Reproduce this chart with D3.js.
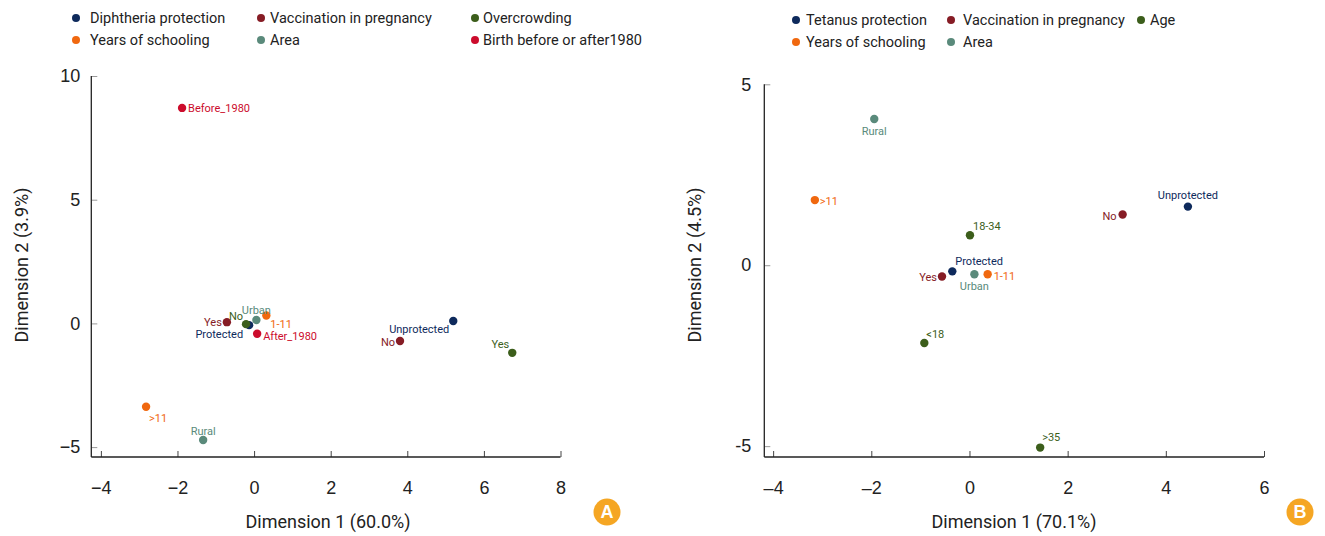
<!DOCTYPE html>
<html>
<head>
<meta charset="utf-8">
<script src="https://cdn.jsdelivr.net/npm/d3@7"></script>
<style>
  body { margin: 0; background: #fff; }
  svg { display: block; font-family: "Liberation Sans Narrow", Roboto, "Liberation Sans", sans-serif; }
</style>
</head>
<body>
<svg id="chart" width="1325" height="536"></svg>
<script>
// ---- Panel A data ----
const groupsA = ['Diphtheria protection', 'Vaccination in pregnancy', 'Overcrowding',
                 'Years of schooling', 'Area', 'Birth before or after1980'];
const labelsA = ['Unprotected', 'Protected', 'No', 'Yes', 'Yes', 'No', '>11', '1-11', 'Rural', 'Urban', 'Before_1980', 'After_1980'];
const groupOfA = [0, 0, 1, 1, 2, 2, 3, 3, 4, 4, 5, 5];
const dim1A = [5.2, -0.13, 3.81, -0.71, 6.74, -0.21, -2.82, 0.32, -1.33, 0.06, -1.88, 0.08];
const dim2A = [0.1, -0.07, -0.71, 0.05, -1.19, -0.03, -3.37, 0.32, -4.71, 0.14, 8.71, -0.42];
const xTicksA = [-4, -2, 0, 2, 4, 6, 8];
const yTicksA = [-5, 0, 5, 10];

// ---- Panel B data ----
const groupsB = ['Tetanus protection', 'Vaccination in pregnancy', 'Age', 'Years of schooling', 'Area'];
const labelsB = ['Unprotected', 'Protected', 'No', 'Yes', '<18', '18-34', '>35', '>11', '1-11', 'Rural', 'Urban'];
const groupOfB = [0, 0, 1, 1, 2, 2, 2, 3, 3, 4, 4];
const dim1B = [4.45, -0.35, 3.12, -0.56, -0.92, 0.01, 1.44, -3.15, 0.37, -1.94, 0.10];
const dim2B = [1.62, -0.17, 1.40, -0.31, -2.15, 0.83, -5.04, 1.80, -0.25, 4.04, -0.25];
const xTicksB = [-4, -2, 0, 2, 4, 6];
const yTicksB = [-5, 0, 5];

// colours per legend group
const colorsA = ['#0e2a5c', '#861c25', '#3c5e1b', '#f0680f', '#5a8a7b', '#cc0c2c'];
const colorsB = ['#0e2a5c', '#861c25', '#3c5e1b', '#f0680f', '#5a8a7b'];

// label placement next to each dot: [dx, dy, anchor]
const placeA = [[-4, 8, 'end'], [-6, 9, 'end'], [-5, 1, 'end'], [-5, 0, 'end'], [-3, -9, 'end'], [-3, -8, 'end'],
                [3, 11, 'start'], [4, 9, 'start'], [0, -9, 'middle'], [0, -10, 'middle'], [6, 0, 'start'], [6, 2, 'start']];
const placeB = [[0, -11, 'middle'], [3, -10, 'start'], [-6, 2, 'end'], [-5, 1, 'end'], [2, -9, 'start'], [3, -9, 'start'],
                [2, -10, 'start'], [5, 1, 'start'], [6, 2, 'start'], [0, 12, 'middle'], [0, 12, 'middle']];

const svg = d3.select('#chart');

function drawPanel(p) {
  const g = svg.append('g');
  const x = d3.scaleLinear().domain(p.xDomain).range(p.xRange);
  const y = d3.scaleLinear().domain(p.yDomain).range(p.yRange);

  // legend
  const leg = g.append('g');
  p.groups.forEach((name, i) => {
    const col = i % 3, row = Math.floor(i / 3);
    const lx = p.legendX[col], ly = p.legendY + row * 22;
    leg.append('circle').attr('cx', lx).attr('cy', ly).attr('r', 4).attr('fill', p.colors[i]);
    leg.append('text').attr('x', lx + p.legendGap[col]).attr('y', ly).attr('dy', '0.35em')
      .style('font-size', '14.5px').style('fill', '#222').text(name);
  });

  // y axis
  const yAxis = g.append('g').attr('transform', `translate(${p.xRange[0]},0)`)
    .call(d3.axisLeft(y).tickValues(p.yTicks).tickSize(-6).tickPadding(p.yPad).tickFormat(p.yFmt));
  yAxis.select('.domain').remove();
  yAxis.selectAll('.tick line').attr('stroke', '#999');
  yAxis.selectAll('text').style('font-size', '18px').style('fill', '#222');
  g.append('line').attr('x1', p.xRange[0]).attr('x2', p.xRange[0])
    .attr('y1', y(p.yTicks[p.yTicks.length - 1])).attr('y2', p.yRange[0])
    .attr('stroke', '#222').attr('stroke-width', 1.3);

  // x axis
  const xAxis = g.append('g').attr('transform', `translate(0,${p.yRange[0]})`)
    .call(d3.axisBottom(x).tickValues(p.xTicks).tickSize(-6).tickPadding(24).tickFormat(p.xFmt));
  xAxis.select('.domain').remove();
  xAxis.selectAll('.tick line').attr('stroke', '#444');
  xAxis.selectAll('text').style('font-size', '18px').style('fill', '#222');
  g.append('line').attr('x1', p.xRange[0]).attr('x2', x(p.xTicks[p.xTicks.length - 1]))
    .attr('y1', p.yRange[0]).attr('y2', p.yRange[0])
    .attr('stroke', '#222').attr('stroke-width', 1.3);

  // axis titles
  g.append('text').attr('x', p.xTitleX).attr('y', 522).attr('dy', '0.35em')
    .attr('text-anchor', 'middle').style('font-size', '18px').style('fill', '#222').text(p.xTitle);
  g.append('text').attr('transform', `translate(${p.yTitleX},265) rotate(-90)`).attr('dy', '0.35em')
    .attr('text-anchor', 'middle').style('font-size', '18px').style('fill', '#222').text(p.yTitle);

  // points
  const pts = p.labels.map((lab, i) => ({ lab, gi: p.groupOf[i], d1: p.dim1[i], d2: p.dim2[i], pl: p.place[i] }));
  g.selectAll('.pt').data(pts).enter().append('circle')
    .attr('class', 'pt')
    .attr('cx', d => x(d.d1)).attr('cy', d => y(d.d2)).attr('r', 4.2)
    .attr('fill', d => p.colors[d.gi]);
  g.selectAll('.lab').data(pts).enter().append('text')
    .attr('class', 'lab')
    .attr('x', d => x(d.d1) + d.pl[0]).attr('y', d => y(d.d2) + d.pl[1])
    .attr('dy', '0.35em').attr('text-anchor', d => d.pl[2])
    .style('font-size', '11px').style('fill', d => p.colors[d.gi]).text(d => d.lab);

  // panel badge
  g.append('circle').attr('cx', p.badgeX).attr('cy', 512).attr('r', 13.5).attr('fill', '#f5a623');
  g.append('text').attr('x', p.badgeX).attr('y', 512).attr('dy', '0.36em').attr('text-anchor', 'middle')
    .style('font-family', '"Liberation Sans", Arial, sans-serif')
    .style('font-size', '18px').style('font-weight', 'bold').style('fill', '#fff').text(p.badge);
}

drawPanel({
  groups: groupsA, colors: colorsA, labels: labelsA, groupOf: groupOfA, dim1: dim1A, dim2: dim2A, place: placeA,
  xTicks: xTicksA, yTicks: yTicksA,
  xDomain: [-4.25, 8], xRange: [91.3, 560.5],
  yDomain: [-5.4, 10], yRange: [457, 76],
  xFmt: d => d < 0 ? '\u2212' + Math.abs(d) : d, yFmt: d => d < 0 ? '\u2212' + Math.abs(d) : d, yPad: 11,
  legendX: [76, 261, 475], legendGap: [14, 9, 8], legendY: 18,
  xTitle: 'Dimension 1 (60.0%)', xTitleX: 328, yTitle: 'Dimension 2 (3.9%)', yTitleX: 22,
  badge: 'A', badgeX: 607
});

drawPanel({
  groups: groupsB, colors: colorsB, labels: labelsB, groupOf: groupOfB, dim1: dim1B, dim2: dim2B, place: placeB,
  xTicks: xTicksB, yTicks: yTicksB,
  xDomain: [-4.18, 6], xRange: [764.3, 1264],
  yDomain: [-5.3, 5], yRange: [457, 84.3],
  xFmt: d => d < 0 ? '\u2013' + Math.abs(d) : d, yFmt: d => d, yPad: 13,
  legendX: [796, 951, 1141], legendGap: [10, 12, 9], legendY: 20,
  xTitle: 'Dimension 1 (70.1%)', xTitleX: 1014, yTitle: 'Dimension 2 (4.5%)', yTitleX: 695,
  badge: 'B', badgeX: 1300
});
</script>
</body>
</html>
